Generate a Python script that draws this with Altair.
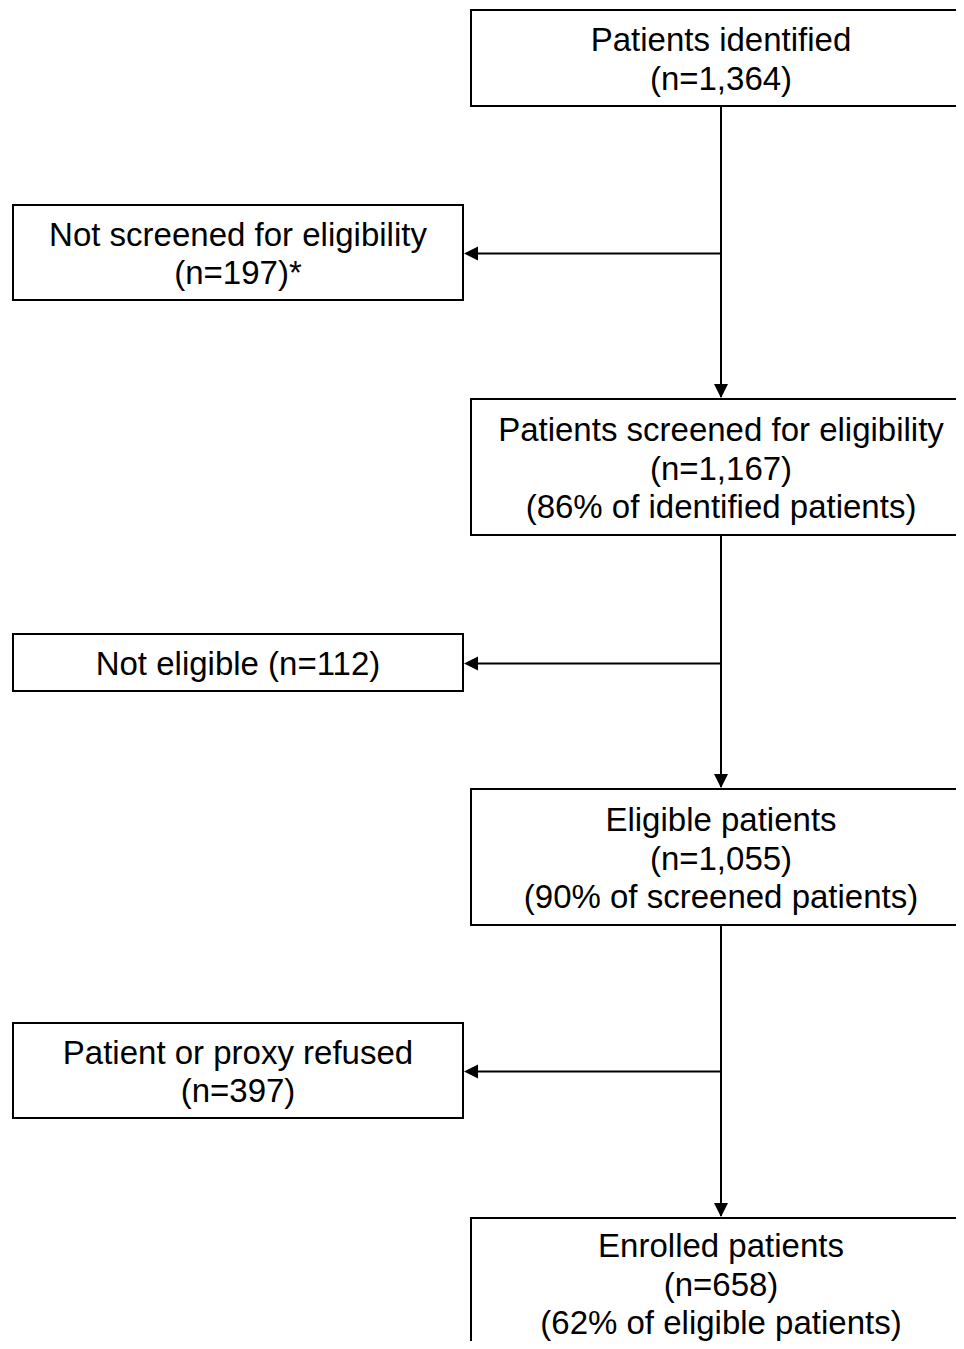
import altair as alt
import pandas as pd

# ---- content (data) ----
main_labels = ["Patients identified", "Patients screened for eligibility",
               "Eligible patients", "Enrolled patients"]
main_n = ["1,364", "1,167", "1,055", "658"]
main_pct = ["", "86% of identified patients", "90% of screened patients",
            "62% of eligible patients"]
side_labels = ["Not screened for eligibility", "Not eligible", "Patient or proxy refused"]
side_n = ["197", "112", "397"]
side_mark = ["*", "", ""]
side_single_line = [False, True, False]

# ---- layout (page pixel coordinates) ----
W, H = 948, 1333
X_DOMAIN = [8, 8 + W]
Y_DOMAIN = [8 + H, 8]
main_x1 = 471
main_x2 = [961, 990, 990, 990]
main_top = [10, 399, 789, 1218]
main_bot = [106, 535, 925, 1354]
main_text_shift = [0, 0, 0, -3]
side_x1, side_x2 = 13, 463
side_top = [205, 634, 1023]
side_bot = [300, 691, 1118]
spine_x = 721
side_text_x = 238
line_gap = 38.5
cap_half = 12.5
arrow = 14

rects, texts, rules, downs, lefts = [], [], [], [], []

for i, lab in enumerate(main_labels):
    rects.append(dict(x=main_x1, x2=main_x2[i], y=main_top[i], y2=main_bot[i]))
    lines = [lab, f"(n={main_n[i]})"] + ([f"({main_pct[i]})"] if main_pct[i] else [])
    cy = (main_top[i] + main_bot[i]) / 2 + main_text_shift[i]
    n = len(lines)
    for k, t in enumerate(lines):
        texts.append(dict(x=spine_x, y=cy + (k - (n - 1) / 2) * line_gap + cap_half, t=t))
    if i > 0:
        rules.append(dict(x=spine_x, x2=spine_x, y=main_bot[i - 1], y2=main_top[i] - 2))
        downs.append(dict(x=spine_x, y=main_top[i] - 1 - arrow / 2))

for j, lab in enumerate(side_labels):
    rects.append(dict(x=side_x1, x2=side_x2, y=side_top[j], y2=side_bot[j]))
    if side_single_line[j]:
        lines = [f"{lab} (n={side_n[j]}){side_mark[j]}"]
    else:
        lines = [lab, f"(n={side_n[j]}){side_mark[j]}"]
    cy = (side_top[j] + side_bot[j]) / 2
    n = len(lines)
    for k, t in enumerate(lines):
        texts.append(dict(x=side_text_x, y=cy + (k - (n - 1) / 2) * line_gap + cap_half, t=t))
    ay = cy + 1
    rules.append(dict(x=spine_x, x2=side_x2 + 4, y=ay, y2=ay))
    lefts.append(dict(x=side_x2 + 1 + arrow / 2, y=ay))

xs = alt.Scale(domain=X_DOMAIN, nice=False, zero=False)
ys = alt.Scale(domain=Y_DOMAIN, nice=False, zero=False)

def X(f="x"):
    return alt.X(f"{f}:Q", scale=xs, axis=None)

def Y(f="y"):
    return alt.Y(f"{f}:Q", scale=ys, axis=None)

box_layer = alt.Chart(pd.DataFrame(rects)).mark_rect(
    fill="white", stroke="black", strokeWidth=2
).encode(x=X(), x2="x2:Q", y=Y(), y2="y2:Q")

rule_layer = alt.Chart(pd.DataFrame(rules)).mark_rule(
    color="black", strokeWidth=2
).encode(x=X(), x2="x2:Q", y=Y(), y2="y2:Q")

down_layer = alt.Chart(pd.DataFrame(downs)).mark_point(
    shape="M-1,-1L1,-1L0,1Z", filled=True, size=arrow * arrow,
    color="black", opacity=1, strokeWidth=0
).encode(x=X(), y=Y())

left_layer = alt.Chart(pd.DataFrame(lefts)).mark_point(
    shape="M1,-1L1,1L-1,0Z", filled=True, size=arrow * arrow,
    color="black", opacity=1, strokeWidth=0
).encode(x=X(), y=Y())

text_layer = alt.Chart(pd.DataFrame(texts)).mark_text(
    align="center", baseline="alphabetic", font="Liberation Sans",
    fontSize=33, color="black"
).encode(x=X(), y=Y(), text="t:N")

chart = alt.layer(box_layer, rule_layer, down_layer, left_layer, text_layer).properties(
    width=W, height=H, padding=0, autosize=alt.AutoSizeParams(type="none"),
    background="white"
).configure_view(stroke=None)

chart.save("out.html", embed_options={"renderer": "svg", "actions": False})
